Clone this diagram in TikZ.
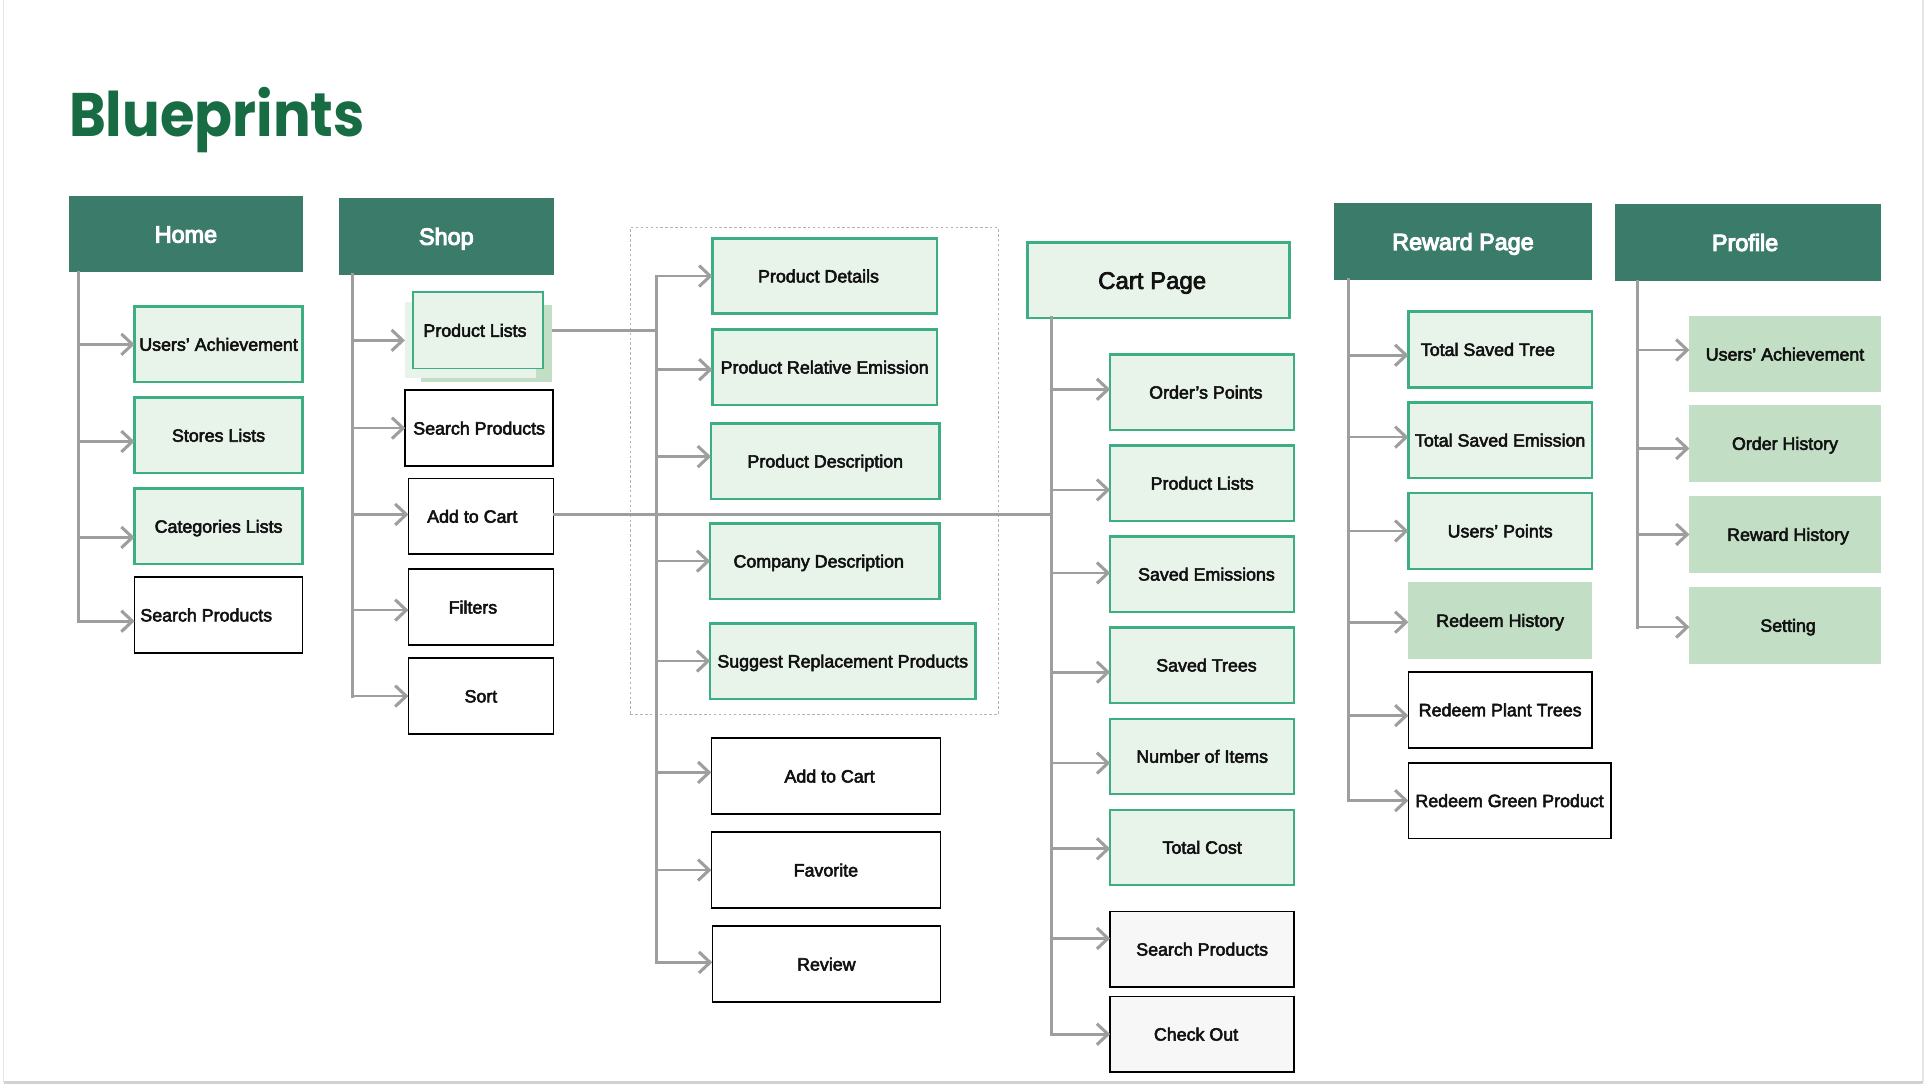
\documentclass[tikz,border=0pt]{standalone}
\usepackage{fontspec}
\setmainfont{Liberation Sans}
\newfontfamily\bodyf{Liberation Sans}[FakeBold=3]
\newfontfamily\headf{Liberation Sans}[FakeBold=4.5]
\newfontfamily\titlef{Poppins}[FakeStretch=0.91]
\usetikzlibrary{arrows.meta}
\definecolor{hdrc}{RGB}{59,123,106}
\definecolor{bordg}{RGB}{61,174,132}
\definecolor{lightg}{RGB}{232,243,234}
\definecolor{midg}{RGB}{194,223,197}
\definecolor{arrg}{RGB}{158,158,158}
\definecolor{titleg}{RGB}{23,108,68}
\definecolor{greyf}{RGB}{247,247,247}
\definecolor{txt}{RGB}{17,17,17}
\newcommand\Bx[7]{\pgfmathsetmacro\bxw{#5-#3}\pgfmathsetmacro\bxh{#6-#4}%
  \node[#1, minimum width=\bxw pt, minimum height=\bxh pt, anchor=north west] (#2) at (#3,#4) {#7};}
\begin{document}
\begin{tikzpicture}[x=1pt,y=-1pt,
  base/.style={inner sep=0pt, outer sep=0pt, text=txt, text height=10.4pt, text depth=0pt,
    font=\bodyf\fontsize{14.5}{17}\selectfont},
  gbox/.style={base, fill=lightg, draw=bordg, line width=2pt},
  wbox/.style={base, fill=white, draw=black, line width=1.3pt},
  sbox/.style={base, fill=greyf, draw=black, line width=1.3pt},
  mbox/.style={base, fill=midg},
  lbox/.style={base, fill=lightg},
  hdr/.style={base, fill=hdrc, text=white, text height=13.6pt, font=\headf\fontsize{19}{22}\selectfont},
  carth/.style={gbox, text height=14pt, font=\bodyf\fontsize{19.5}{22}\selectfont},
  grpbox/.style={base, draw=black!30, line width=0.9pt, dash pattern=on 2pt off 2pt},
  arr/.style={draw=arrg, line width=2.2pt, -{Straight Barb[length=9pt,width=17pt,line width=2.5pt]}},
  trunk/.style={draw=arrg, line width=2.5pt, line cap=rect},
  link/.style={draw=arrg, line width=2.5pt}]
\useasboundingbox (0,0) rectangle (1568,885);
% page frame
\draw[black!10, line width=1.2pt] (3,-2) -- (3,880);
\draw[black!10, line width=1.2pt] (1564,-2) -- (1564,880);
\draw[black!18, line width=2.6pt] (3,880.5) -- (1564,880.5);
% title
\node[anchor=base west, inner sep=0pt, text=titleg, font=\titlef\bfseries\fontsize{50}{56}\selectfont] (title) at (56,111.1) {Blueprints};
% group box
\Bx{grpbox}{grp}{512.6}{185}{811.7}{581.3}{}
% ---------------- Home
\Bx{hdr}{home}{56.1}{159.3}{246.3}{221.6}{Home}
\Bx{gbox}{hUA}{109.5}{249.3}{246}{310.8}{Users’ Achievement}
\Bx{gbox}{hSL}{109.5}{323.3}{246}{384.8}{Stores Lists}
\Bx{gbox}{hCL}{109.5}{397.3}{246}{458.8}{Categories Lists}
\Bx{wbox}{hSP}{109.5}{469.3}{246}{531.1}{Search Products\kern20pt}
\coordinate (tH) at (63.7,0);
% ---------------- Shop
\Bx{hdr}{shop}{275.5}{161}{450.5}{223.5}{Shop}
\Bx{mbox}{pld}{342.3}{248}{448.7}{310.3}{}
\Bx{lbox}{pll}{329.3}{245.8}{436}{307.8}{}
\Bx{gbox, line width=1.3pt}{pl}{335.8}{237.7}{441.8}{299.7}{Product Lists\kern5pt}
\Bx{wbox}{sSP}{329.6}{317.3}{449.8}{379.1}{Search Products}
\Bx{wbox}{sAC}{332.2}{389.1}{450}{450.7}{Add to Cart\kern14pt}
\Bx{wbox}{sFi}{332.2}{462.9}{450}{524.7}{Filters\kern13pt}
\Bx{wbox}{sSo}{332.2}{535.2}{450}{597}{Sort}
\coordinate (tS) at (286.4,0);
% ---------------- Product group
\Bx{gbox}{mPD}{579.4}{194}{762}{255}{Product Details\kern10pt}
\Bx{gbox}{mPRE}{579.4}{268}{762}{329.3}{Product Relative Emission}
\Bx{gbox}{mPDe}{578.3}{344.4}{764.1}{405.7}{Product Description}
\Bx{gbox}{mCD}{577.6}{425.7}{764.1}{487}{Company Description\kern10pt}
\Bx{gbox}{mSR}{577.6}{507}{793.2}{568.3}{Suggest Replacement Products}
\Bx{wbox}{mAC}{578.5}{600.3}{764.8}{662.1}{\kern6pt Add to Cart}
\Bx{wbox}{mFa}{578.5}{676.7}{764.8}{738.5}{Favorite}
\Bx{wbox}{mRe}{579.3}{753.2}{764.8}{815}{Review}
\coordinate (tM) at (533.6,0);
% ---------------- Cart
\Bx{carth}{cart}{835.5}{197.3}{1048.6}{258.6}{Cart Page\kern10pt}
\Bx{gbox}{cOP}{902.9}{288.4}{1052.5}{349.6}{\kern6pt Order’s Points}
\Bx{gbox}{cPL}{902.9}{362.4}{1052.5}{423.6}{Product Lists}
\Bx{gbox}{cSE}{902.9}{436.3}{1052.5}{497.6}{\kern7pt Saved Emissions}
\Bx{gbox}{cST}{902.9}{510.3}{1052.5}{571.6}{\kern7pt Saved Trees}
\Bx{gbox}{cNI}{902.9}{584.6}{1052.5}{645.6}{Number of Items}
\Bx{gbox}{cTC}{902.9}{658.6}{1052.5}{719.6}{Total Cost}
\Bx{sbox}{cSP}{902.9}{741.2}{1052.5}{802.8}{Search Products}
\Bx{sbox}{cCO}{902.9}{810.3}{1052.5}{871.9}{Check Out\kern10pt}
\coordinate (tC) at (855,0);
% ---------------- Reward
\Bx{hdr}{rew}{1084.6}{165.3}{1295}{227.7}{Reward Page}
\Bx{gbox}{rTST}{1145.4}{253.4}{1294.7}{315}{Total Saved Tree\kern20pt}
\Bx{gbox}{rTSE}{1145.4}{327.4}{1294.7}{388.6}{Total Saved Emission}
\Bx{gbox}{rUP}{1145.4}{401.1}{1294.7}{462.6}{Users’ Points}
\Bx{mbox}{rRH}{1145.4}{473.5}{1294.7}{535.7}{Redeem History}
\Bx{wbox}{rRPT}{1145.4}{546.3}{1294.7}{608.3}{Redeem Plant Trees}
\Bx{wbox}{rRGP}{1145.4}{620.3}{1310}{682}{Redeem Green Product}
\coordinate (tR) at (1096.9,0);
% ---------------- Profile
\Bx{hdr}{prof}{1313.1}{165.9}{1529.4}{228.6}{Profile\kern4pt}
\Bx{mbox}{pUA}{1374}{256.9}{1529.4}{319.2}{Users’ Achievement}
\Bx{mbox}{pOH}{1374}{329.5}{1529.4}{391.8}{Order History}
\Bx{mbox}{pRH}{1374}{403.5}{1529.4}{465.8}{\kern5pt Reward History}
\Bx{mbox}{pSe}{1374}{477.4}{1529.4}{539.8}{\kern5pt Setting}
\coordinate (tP) at (1332,0);
% ================= connectors
% Home
\draw[trunk] (home.south -| tH) -- ([yshift=-5pt]hSP.west -| tH);
\draw[arr] (hUA.west -| tH) -- (hUA.west);
\draw[arr] ([yshift=-5pt]hSL.west -| tH) -- ([yshift=-5pt]hSL.west);
\draw[arr] ([yshift=-9pt]hCL.west -| tH) -- ([yshift=-9pt]hCL.west);
\draw[arr] ([yshift=-5pt]hSP.west -| tH) -- ([yshift=-5pt]hSP.west);
% Shop
\draw[trunk] (shop.south -| tS) -- (sSo.west -| tS);
\draw[arr] (pll.west -| tS) -- (pll.west);
\draw[arr] (sSP.west -| tS) -- (sSP.west);
\draw[arr] ([yshift=1.5pt]sAC.west -| tS) -- ([yshift=1.5pt]sAC.west);
\draw[arr] ([yshift=-2.4pt]sFi.west -| tS) -- ([yshift=-2.4pt]sFi.west);
\draw[arr] (sSo.west -| tS) -- (sSo.west);
% Product Lists -> product group
\draw[link] (pld.east |- pl.east) -- (pl.east -| tM);
\draw[trunk] (mPD.west -| tM) -- ([yshift=1.4pt]mRe.west -| tM);
\draw[arr] (mPD.west -| tM) -- (mPD.west);
\draw[arr] ([yshift=-2pt]mPRE.west -| tM) -- ([yshift=-2pt]mPRE.west);
\draw[arr] ([yshift=3.7pt]mPDe.west -| tM) -- ([yshift=3.7pt]mPDe.west);
\draw[arr] (mCD.west -| tM) -- (mCD.west);
\draw[arr] (mSR.west -| tM) -- (mSR.west);
\draw[arr] ([yshift=3pt]mAC.west -| tM) -- ([yshift=3pt]mAC.west);
\draw[arr] (mFa.west -| tM) -- (mFa.west);
\draw[arr] ([yshift=1.4pt]mRe.west -| tM) -- ([yshift=1.4pt]mRe.west);
% Add to Cart -> cart
\draw[link] ([yshift=1.7pt]sAC.east) -- ([yshift=1.7pt]sAC.east -| tC);
% Cart
\draw[trunk] (cart.south -| tC) -- (cCO.west -| tC);
\draw[arr] ([yshift=2.4pt]cOP.west -| tC) -- ([yshift=2.4pt]cOP.west);
\draw[arr] ([yshift=-5.4pt]cPL.west -| tC) -- ([yshift=-5.4pt]cPL.west);
\draw[arr] ([yshift=1pt]cSE.west -| tC) -- ([yshift=1pt]cSE.west);
\draw[arr] ([yshift=-5.7pt]cST.west -| tC) -- ([yshift=-5.7pt]cST.west);
\draw[arr] ([yshift=-5.5pt]cNI.west -| tC) -- ([yshift=-5.5pt]cNI.west);
\draw[arr] ([yshift=-1.2pt]cTC.west -| tC) -- ([yshift=-1.2pt]cTC.west);
\draw[arr] ([yshift=8.8pt]cSP.west -| tC) -- ([yshift=8.8pt]cSP.west);
\draw[arr] (cCO.west -| tC) -- (cCO.west);
% Reward
\draw[trunk] (rew.south -| tR) -- (rRGP.west -| tR);
\draw[arr] ([yshift=-4.7pt]rTST.west -| tR) -- ([yshift=-4.7pt]rTST.west);
\draw[arr] ([yshift=2.5pt]rTSE.west -| tR) -- ([yshift=2.5pt]rTSE.west);
\draw[arr] (rUP.west -| tR) -- (rUP.west);
\draw[arr] ([yshift=-1.4pt]rRH.west -| tR) -- ([yshift=-1.4pt]rRH.west);
\draw[arr] ([yshift=-4.7pt]rRPT.west -| tR) -- ([yshift=-4.7pt]rRPT.west);
\draw[arr] (rRGP.west -| tR) -- (rRGP.west);
% Profile
\draw[trunk] (prof.south -| tP) -- ([yshift=-1.4pt]pSe.west -| tP);
\draw[arr] ([yshift=3.4pt]pUA.west -| tP) -- ([yshift=3.4pt]pUA.west);
\draw[arr] ([yshift=-4.1pt]pOH.west -| tP) -- ([yshift=-4.1pt]pOH.west);
\draw[arr] (pRH.west -| tP) -- (pRH.west);
\draw[arr] ([yshift=-1.4pt]pSe.west -| tP) -- ([yshift=-1.4pt]pSe.west);
\end{tikzpicture}
\end{document}
